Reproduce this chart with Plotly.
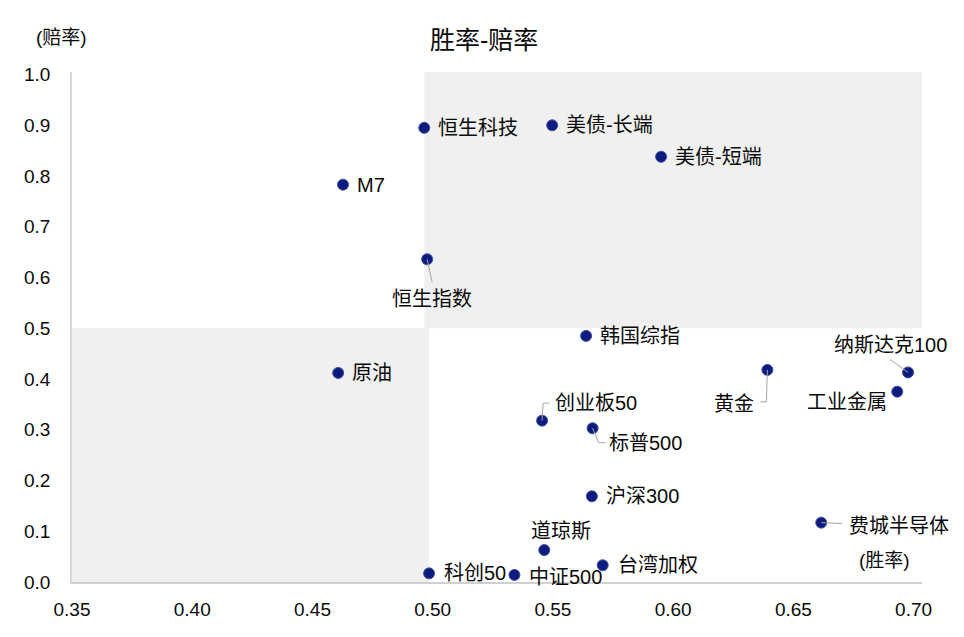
import plotly.graph_objects as go

# ---- data ----
names = ["恒生科技", "美债-长端", "美债-短端", "M7", "恒生指数", "韩国综指", "原油",
         "黄金", "纳斯达克100", "工业金属", "创业板50", "标普500", "沪深300",
         "费城半导体", "道琼斯", "台湾加权", "科创50", "中证500"]
win_rate = [0.4965, 0.5497, 0.5950, 0.4627, 0.4977, 0.5638, 0.4607,
            0.6392, 0.6977, 0.6932, 0.5455, 0.5665, 0.5662,
            0.6616, 0.5464, 0.5707, 0.4985, 0.5340]
odds = [0.895, 0.900, 0.838, 0.783, 0.636, 0.485, 0.412,
        0.418, 0.413, 0.375, 0.318, 0.303, 0.169,
        0.117, 0.063, 0.033, 0.017, 0.014]

x_ticks = [0.35, 0.40, 0.45, 0.50, 0.55, 0.60, 0.65, 0.70]
y_ticks = [0.0, 0.1, 0.2, 0.3, 0.4, 0.5, 0.6, 0.7, 0.8, 0.9, 1.0]

# quadrant split (shaded areas)
split_x_top = 0.4965
split_x_bottom = 0.4985
split_y = 0.5

# label placement: (xanchor, yanchor, xshift, yshift) in pixels from point
label_pos = {
    "恒生科技": ("left", "middle", 12, 0),
    "美债-长端": ("left", "middle", 12, 0),
    "美债-短端": ("left", "middle", 12, 0),
    "M7": ("left", "middle", 12, 0),
    "恒生指数": ("center", "middle", 5, -40),
    "韩国综指": ("left", "middle", 12, 0),
    "原油": ("left", "middle", 12, 0),
    "黄金": ("right", "middle", -11, -34),
    "纳斯达克100": ("center", "middle", -18, 27),
    "工业金属": ("right", "middle", -8, -10),
    "创业板50": ("left", "middle", 11, 18),
    "标普500": ("left", "middle", 14, -15),
    "沪深300": ("left", "middle", 12, 0),
    "费城半导体": ("left", "middle", 26, -3),
    "道琼斯": ("center", "middle", 17, 19),
    "台湾加权": ("left", "middle", 13, 0),
    "科创50": ("left", "middle", 13, 0),
    "中证500": ("left", "middle", 13, -2),
}
# leader lines: pixel path relative to point (y up)
leaders = {
    "恒生指数": "M0,0 L5,-23",
    "黄金": "M0,0 L-1,-32 L-7,-32",
    "纳斯达克100": "M0,0 L-18,13",
    "创业板50": "M0,0 L1,17.5 L7,17.5",
    "标普500": "M0,0 L5,-12 L6,-14.5 L13,-14.5",
    "费城半导体": "M0,0 L21,-1",
}

FONT = "Liberation Sans, Arial, Noto Sans CJK SC, sans-serif"
TXT = "#0a0a0a"

fig = go.Figure()

shapes = [
    dict(type="rect", xref="x", yref="y", x0=split_x_top, x1=0.7035, y0=split_y, y1=1.005,
         fillcolor="#f0f0f0", line=dict(width=0), layer="below"),
    dict(type="rect", xref="x", yref="y", x0=0.35, x1=split_x_bottom, y0=0, y1=split_y,
         fillcolor="#f0f0f0", line=dict(width=0), layer="below"),
]
for n, x, y in zip(names, win_rate, odds):
    if n in leaders:
        shapes.append(dict(type="path", xref="x", yref="y", xsizemode="pixel", ysizemode="pixel",
                           xanchor=x, yanchor=y, path=leaders[n],
                           line=dict(color="#a6a6a6", width=1), layer="above"))

fig.add_trace(go.Scatter(
    x=win_rate, y=odds, mode="markers", text=names,
    marker=dict(size=11, color="#0d1a7e", line=dict(color="#3f4f9f", width=1)),
    hoverinfo="text+x+y", showlegend=False,
))

annotations = []
for n, x, y in zip(names, win_rate, odds):
    xa, ya, xs, ys = label_pos[n]
    annotations.append(dict(x=x, y=y, xref="x", yref="y", text=n, showarrow=False,
                             xanchor=xa, yanchor=ya, xshift=xs, yshift=ys,
                             font=dict(family=FONT, size=20, color=TXT)))

annotations += [
    dict(text="胜率-赔率", xref="paper", yref="paper", x=0.5, y=1, xanchor="center", yanchor="middle",
         xshift=-13, yshift=32, showarrow=False, font=dict(family=FONT, size=25, color=TXT)),
    dict(text="(赔率)", xref="paper", yref="paper", x=0, y=1, xanchor="center", yanchor="middle",
         xshift=-11, yshift=35, showarrow=False, font=dict(family=FONT, size=19, color=TXT)),
    dict(text="(胜率)", xref="x", yref="y", x=0.70, y=0, xanchor="center", yanchor="middle",
         xshift=-29, yshift=22, showarrow=False, font=dict(family=FONT, size=19, color=TXT)),
]

fig.update_layout(
    width=964, height=637,
    margin=dict(l=72, r=42, t=72, b=55),
    paper_bgcolor="white", plot_bgcolor="white",
    shapes=shapes, annotations=annotations,
    font=dict(family=FONT, color=TXT),
    xaxis=dict(range=[0.35, 0.7035], tickvals=x_ticks, ticktext=[f"{v:.2f}" for v in x_ticks],
               showgrid=False, zeroline=False, showline=True, linecolor="#d0d0d0", linewidth=1.5,
               ticks="", ticklabelstandoff=9, tickfont=dict(size=19, family=FONT, color=TXT)),
    yaxis=dict(range=[0, 1.005], tickvals=y_ticks, ticktext=[f"{v:.1f}" for v in y_ticks],
               showgrid=False, zeroline=False, showline=True, linecolor="#d9d9d9", linewidth=1.5,
               ticks="", ticklabelstandoff=16, tickfont=dict(size=19, family=FONT, color=TXT)),
)

fig.write_html("out.html")
